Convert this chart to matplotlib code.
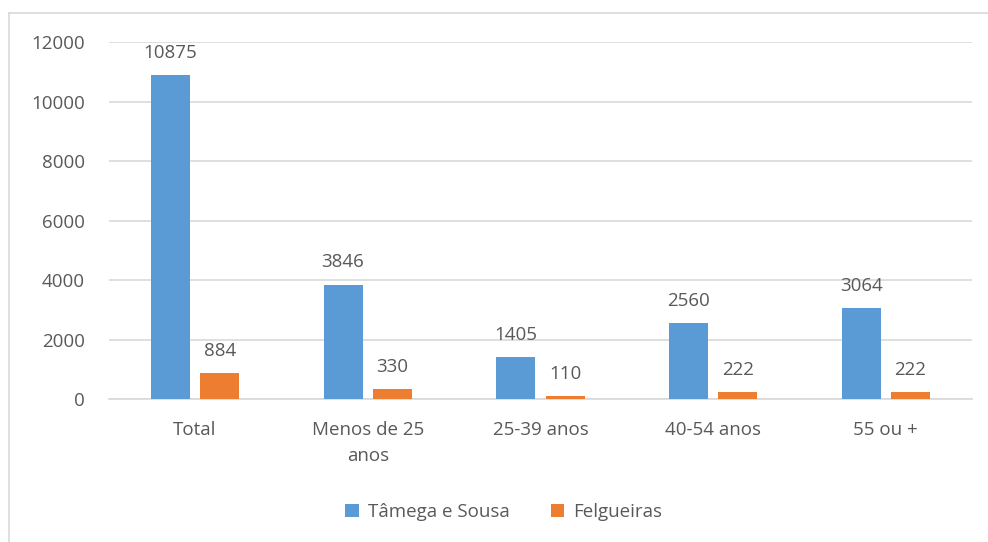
import matplotlib.pyplot as plt
import numpy as np
from matplotlib.lines import Line2D

categories = ['Total', 'Menos de 25\nanos', '25-39 anos', '40-54 anos', '55 ou +']
tamega = [10875, 3846, 1405, 2560, 3064]
felgueiras = [884, 330, 110, 222, 222]
series_names = ['Tâmega e Sousa', 'Felgueiras']

plt.rcParams['font.family'] = ['Open Sans', 'DejaVu Sans']
txt = '#595959'
fs = 13.5

fig = plt.figure(figsize=(9.88, 5.42), dpi=100)
ax = fig.add_axes([0.110, 0.2638, 0.874, 0.6587])

x = np.arange(len(categories))
w = 0.226
off = 0.143
b1 = ax.bar(x - off, tamega, w, color='#5B9BD5', label=series_names[0], zorder=3)
b2 = ax.bar(x + off, felgueiras, w, color='#ED7D31', label=series_names[1], zorder=3)

for bars in (b1, b2):
    for r in bars:
        ax.annotate(f'{int(r.get_height())}', (r.get_x() + r.get_width() / 2, r.get_height()),
                    xytext=(0, 9.5), textcoords='offset points', ha='center', va='bottom',
                    fontsize=fs, color=txt)

ax.set_xlim(-0.5, len(categories) - 0.5)
ax.set_ylim(0, 12000)
ax.set_yticks(range(0, 12001, 2000))
ax.set_xticks(x)
ax.set_xticklabels(categories, color=txt, fontsize=fs, linespacing=1.55)
ax.tick_params(axis='y', colors=txt, labelsize=fs, length=0, pad=17)
ax.tick_params(axis='x', length=0, pad=16)
ax.yaxis.grid(True, color='#D9D9D9', linewidth=1.2, zorder=0)
for s in ['top', 'right', 'left']:
    ax.spines[s].set_visible(False)
ax.spines['bottom'].set_color('#D9D9D9')
ax.spines['bottom'].set_linewidth(1.2)

ax.legend(loc='center', bbox_to_anchor=(0.51, 0.055), bbox_transform=fig.transFigure,
          ncol=2, frameon=False, fontsize=fs, labelcolor=txt, handlelength=0.7,
          handleheight=0.7, columnspacing=2.2, handletextpad=0.5)

# chart border (left and top visible)
fig.add_artist(Line2D([9 / 988, 9 / 988], [0, 1 - 13 / 542], transform=fig.transFigure,
                      color='#D9D9D9', linewidth=1.2))
fig.add_artist(Line2D([9 / 988, 1], [1 - 13 / 542, 1 - 13 / 542], transform=fig.transFigure,
                      color='#D9D9D9', linewidth=1.2))

fig.savefig('out.png', dpi=100)
